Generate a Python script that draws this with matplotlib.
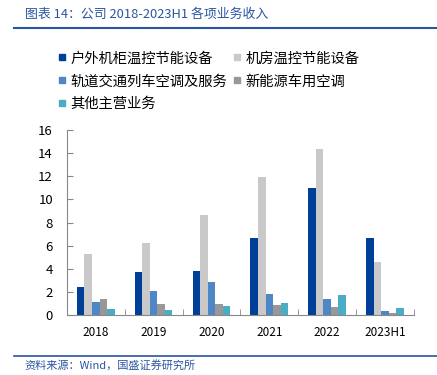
import matplotlib
matplotlib.use("Agg")
import matplotlib.pyplot as plt
import numpy as np
from matplotlib.lines import Line2D

plt.rcParams['font.family'] = ['Noto Sans CJK SC', 'DejaVu Sans']

years = ["2018", "2019", "2020", "2021", "2022", "2023H1"]
series_names = ["户外机柜温控节能设备", "机房温控节能设备", "轨道交通列车空调及服务",
                "新能源车用空调", "其他主营业务"]
outdoor = [2.40, 3.75, 3.80, 6.65, 11.00, 6.63]
room = [5.28, 6.23, 8.65, 11.94, 14.39, 4.58]
rail = [1.15, 2.08, 2.85, 1.84, 1.41, 0.35]
ev = [1.36, 0.92, 0.95, 0.84, 0.66, 0.20]
other = [0.52, 0.43, 0.78, 1.01, 1.73, 0.63]
colors = ["#003f98", "#c9c9c9", "#4f86c6", "#989898", "#4bacc6"]

fig = plt.figure(figsize=(4.37, 3.75), dpi=100)
ax = fig.add_axes([0.153, 0.16, 0.794, 0.493])

x = np.arange(len(years))
w = 0.13
handles = []
for i, (vals, c) in enumerate(zip([outdoor, room, rail, ev, other], colors)):
    ax.bar(x + (i - 2) * w, vals, width=w, color=c, zorder=2)
    handles.append(Line2D([], [], marker="s", ls="", color=c, markersize=5))

ax.set_xlim(-0.5, len(years) - 0.5)
ax.set_ylim(0, 16)
ax.set_yticks(range(0, 17, 2))
ax.set_xticks(x)
ax.set_xticklabels(years)
ax.set_xticks(np.arange(-0.5, len(years), 1), minor=True)
ax.tick_params(axis="x", which="major", length=0, pad=8, labelsize=8.5)
ax.tick_params(axis="x", which="minor", length=4, direction="in", color="#888888")
ax.tick_params(axis="y", length=4, direction="in", color="#888888", labelsize=9.5, pad=10)
for s in ["top", "right"]:
    ax.spines[s].set_visible(False)
for s in ["left", "bottom"]:
    ax.spines[s].set_color("#888888")

# matplotlib fills legend columns first, so reorder to read row by row
order = [0, 2, 4, 1, 3]
fig.legend([handles[k] for k in order], [series_names[k] for k in order],
           ncol=2, loc="upper left", bbox_to_anchor=(0.118, 0.878), frameon=False,
           fontsize=10.3, handlelength=0.6, handletextpad=0.3, columnspacing=0.4,
           labelspacing=0.62, borderaxespad=0)

title_color = "#2a55a0"
fig.text(0.057, 0.962, "图表 14：公司 2018-2023H1 各项业务收入", fontsize=9.3,
         color=title_color, style="italic", va="center")
fig.add_artist(Line2D([0.032, 1.0], [0.925, 0.925], color="#2a55a0", lw=1.5))
fig.add_artist(Line2D([0.032, 1.0], [0.051, 0.051], color="#2a55a0", lw=1.2))
fig.text(0.057, 0.027, "资料来源：Wind，国盛证券研究所", fontsize=8,
         color=title_color, style="italic", va="center")

fig.savefig("out.png", dpi=100)
